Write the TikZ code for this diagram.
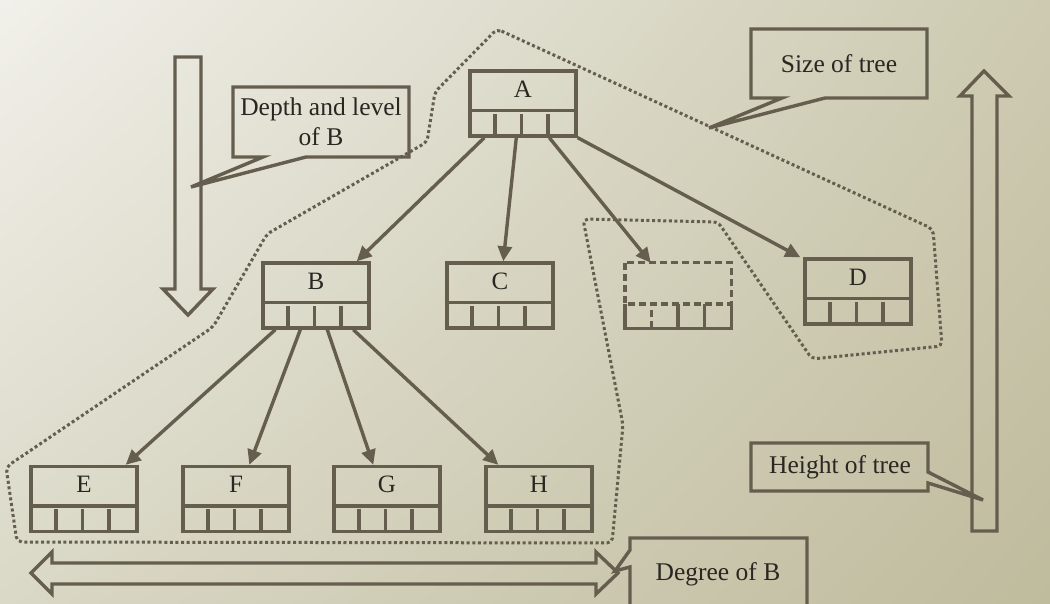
\documentclass[tikz,border=0pt]{standalone}
\usepackage{fontspec}
\setmainfont{Liberation Serif}
\usetikzlibrary{arrows.meta,calc,shadings}
\definecolor{ln}{HTML}{655D4E}
\definecolor{tx}{HTML}{2A2722}
\definecolor{bgA}{HTML}{F1F0EA}
\definecolor{bgB}{HTML}{CDCAB1}
\definecolor{bgC}{HTML}{DAD8C6}
\definecolor{bgD}{HTML}{BFBB9D}
\tikzset{
  tbox/.style={draw=ln, line width=3.4pt, minimum width=106pt, minimum height=65pt, inner sep=0pt},
  hbox/.style={minimum width=106pt, minimum height=65pt, inner sep=0pt},
  tlabel/.style={text=tx, font=\fontsize{25}{28}\selectfont, inner sep=0pt},
  ctext/.style={text=tx, font=\fontsize{25.5}{30}\selectfont, align=center, inner sep=0pt},
  ln3/.style={draw=ln, line width=3.4pt},
  arr/.style={draw=ln, line width=3.4pt, -{Triangle[length=15pt,width=14pt]}},
  dotline/.style={draw=ln, line width=3pt, dash pattern=on 3pt off 2.6pt},
  shape3/.style={draw=ln, line width=3.4pt, line join=miter},
}
\newcommand{\treebox}[4]{%
  \node[tbox] (#1) at (#2,#3) {};
  \node[tlabel] (#1-l) at ($(#1.north)+(0,20)$) {#4};
  \draw[ln3] ($(#1.north west)+(0,41)$) -- ($(#1.north east)+(0,41)$);
  \foreach \i in {1,2,3} {\draw[ln3] ($(#1.south west)+(26.5*\i,0)$) -- ++(0,-24);}
}
\begin{document}
\begin{tikzpicture}[x=1pt,y=-1pt]
\shade[upper left=bgA, upper right=bgB, lower left=bgC, lower right=bgD] (0,0) rectangle (1050,604);
\useasboundingbox (0,0) rectangle (1050,604);

% dotted region
\draw[dotline, rounded corners=5pt] (497,29) -- (933,229) -- (942,346) -- (812,359) -- (718,222) -- (583,219) -- (623,425) -- (612,543) -- (17,542) -- (6,467) -- (213,327) -- (267,234) -- (427,142) -- (435,92) -- cycle;

% tree nodes
\treebox{A}{523}{103.5}{A}
\treebox{B}{316}{295.5}{B}
\treebox{C}{500}{295.5}{C}
\treebox{D}{858}{291.5}{D}
\treebox{E}{84}{499}{E}
\treebox{F}{236}{499}{F}
\treebox{G}{387}{499}{G}
\treebox{H}{539}{499}{H}

% dashed (removed) node
\node[hbox] (X) at (678,295.5) {};
\draw[ln3, dash pattern=on 7pt off 4pt] (X.north west) rectangle ($(X.north east)+(0,41)$);
\draw[ln3] ($(X.north west)+(0,41)$) -- (X.south west) -- (X.south east) -- ($(X.north east)+(0,41)$);
\draw[ln3, dash pattern=on 7pt off 4pt] ($(X.south west)+(26.5,0)$) -- ++(0,-24);
\draw[ln3] ($(X.south west)+(53,0)$) -- ++(0,-24);
\draw[ln3] ($(X.south west)+(79.5,0)$) -- ++(0,-24);

% connectors
\draw[arr] ([xshift=16pt]A.south west) -- ([xshift=-14pt]B.north east);
\draw[arr] ([xshift=48pt]A.south west) -- ([xshift=58pt]C.north west);
\draw[arr] ([xshift=81pt]A.south west) -- ([xshift=26pt]X.north west);
\draw[arr] (A.south east) -- ([xshift=-3pt]D.north west);
\draw[arr] ([xshift=14pt]B.south west) -- ([xshift=-13pt]E.north east);
\draw[arr] ([xshift=39pt]B.south west) -- ([xshift=68pt]F.north west);
\draw[arr] ([xshift=66pt]B.south west) -- ([xshift=41pt]G.north west);
\draw[arr] ([xshift=92pt]B.south west) -- ([xshift=14pt]H.north west);

% block arrows
\draw[shape3] (175,57) -- (201,57) -- (201,289) -- (213,289) -- (188,315) -- (163,289) -- (175,289) -- cycle;
\draw[shape3] (972,531) -- (997,531) -- (997,96) -- (1009,96) -- (984,71) -- (960,96) -- (972,96) -- cycle;
\draw[shape3] (31,573) -- (52,552) -- (52,563) -- (596,563) -- (596,552) -- (618,573) -- (596,594) -- (596,584) -- (52,584) -- (52,594) -- cycle;

% callouts
\draw[shape3] (233,87) -- (409,87) -- (409,157) -- (306,157) -- (191,187) -- (263,157) -- (233,157) -- cycle;
\node[ctext] (depth) at (321,122) {Depth and level\\of B};

\draw[shape3] (751,29) -- (927,29) -- (927,98) -- (825,98) -- (709,128) -- (782,98) -- (751,98) -- cycle;
\node[ctext] (size) at (839,64) {Size of tree};

\draw[shape3] (751,443) -- (928,443) -- (928,472) -- (983,500) -- (928,483) -- (928,491) -- (751,491) -- cycle;
\node[ctext] (height) at (840,467) {Height of tree};

\draw[shape3] (630,620) -- (630,567) -- (615,571) -- (630,550) -- (630,538) -- (807,538) -- (807,620);
\node[ctext] (degree) at (718,574) {Degree of B};
\end{tikzpicture}
\end{document}
